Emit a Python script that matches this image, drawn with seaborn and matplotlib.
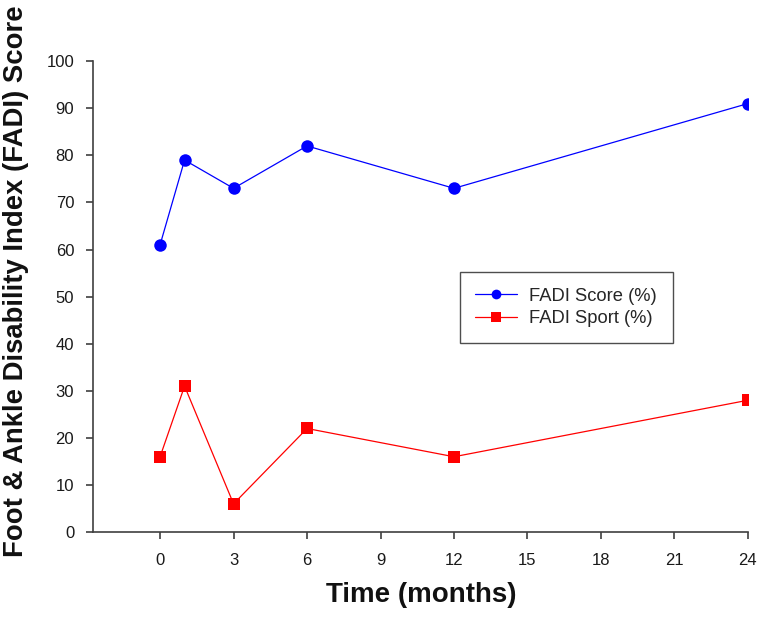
import matplotlib
matplotlib.use("Agg")
import matplotlib.pyplot as plt
import seaborn as sns
import pandas as pd

months = [0, 1, 3, 6, 12, 24]
fadi_score = [61, 79, 73, 82, 73, 91]
fadi_sport = [16, 31, 6, 22, 16, 28]
series_names = ["FADI Score (%)", "FADI Sport (%)"]
x_ticks = [0, 3, 6, 9, 12, 15, 18, 21, 24]
y_ticks = [0, 10, 20, 30, 40, 50, 60, 70, 80, 90, 100]

df = pd.DataFrame({
    "Time": months * 2,
    "Value": fadi_score + fadi_sport,
    "Series": [series_names[0]] * len(months) + [series_names[1]] * len(months),
})

sns.set_theme(style="ticks")
plt.rcParams["font.family"] = ["Liberation Sans", "DejaVu Sans"]

fig = plt.figure(figsize=(7.62, 6.18), dpi=100)
ax = fig.add_axes([0.122, 0.139, 0.8595, 0.762])

sns.lineplot(data=df, x="Time", y="Value", hue="Series", style="Series",
             palette={series_names[0]: "#0000ff", series_names[1]: "#ff0000"},
             markers={series_names[0]: "o", series_names[1]: "s"},
             dashes=False, linewidth=0.9, markersize=9, markeredgewidth=0,
             ax=ax)
for line in ax.get_lines():
    if line.get_marker() == "s":
        line.set_markersize(8)

ax.set_xlim(-2.74, 24)
ax.set_ylim(0, 100)
ax.set_xticks(x_ticks)
ax.set_yticks(y_ticks)
for s in ["top", "right"]:
    ax.spines[s].set_visible(False)
for s in ["left", "bottom"]:
    ax.spines[s].set_color("#404040")
    ax.spines[s].set_linewidth(1.2)
ax.tick_params(axis="both", direction="out", length=5, width=1.2, color="#404040",
               labelsize=12, labelcolor="#1a1a1a", pad=8.5)
ax.tick_params(axis="x", pad=10)

ax.set_xlabel("Time (months)", fontsize=20, fontweight="bold", color="#111111")
ax.xaxis.set_label_coords(0.5008, -0.106)
ax.set_ylabel("Foot & Ankle Disability Index (FADI) Score", fontsize=19.8,
              fontweight="bold", color="#111111")
ax.yaxis.set_label_coords(-0.118, 0.532)
ax.yaxis.label.set_va("center")

leg = ax.legend(loc="upper left", bbox_to_anchor=(0.560, 0.552), fontsize=13.2,
                frameon=True, fancybox=False, edgecolor="#222222",
                borderpad=0.85, borderaxespad=0, handlelength=2.3,
                handletextpad=0.65, labelspacing=0.3, title=None)
leg.get_frame().set_linewidth(1.0)
for h in leg.legend_handles:
    h.set_markersize(7)

fig.savefig("out.png", dpi=100)
